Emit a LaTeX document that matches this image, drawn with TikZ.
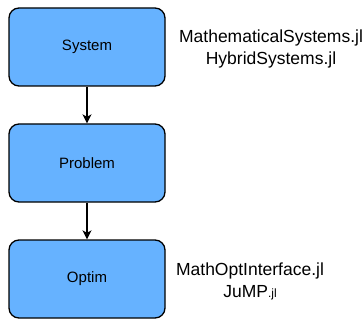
\documentclass[tikz,border=0pt]{standalone}
\usepackage{fontspec}
\setmainfont{Liberation Sans}
\usetikzlibrary{arrows.meta}
\definecolor{boxblue}{RGB}{102,178,255}

\begin{document}
\begin{tikzpicture}[
  x=1pt, y=1pt,
  node distance=116pt,
  block/.style={rectangle, rounded corners=10pt, draw, line width=1.3pt, fill=boxblue, minimum width=156pt, minimum height=78pt, font=\fontsize{15}{18}\selectfont},
  pkg/.style={align=center, font=\fontsize{17.5}{22}\selectfont},
  flow/.style={->, >={Stealth[length=9pt, width=9pt, inset=2.5pt]}, line width=1.3pt}
]
  \useasboundingbox (0,0) rectangle (363,-320);
  \node[block] (system) at (87,-47) {System};
  \node[block, below of=system] (problem) {Problem};
  \node[block, below of=problem] (optim) {Optim};

  \draw[flow] (system) -- (problem);
  \draw[flow] (problem) -- (optim);

  \node[pkg, right of=system, xshift=68pt, yshift=-2pt] (syspkg) {MathematicalSystems.jl\\HybridSystems.jl};
  \node[pkg, right of=optim, xshift=47pt, yshift=-2pt] (optpkg) {MathOptInterface.jl\\JuMP{\fontsize{12}{14}\selectfont.jl}};
\end{tikzpicture}
\end{document}
